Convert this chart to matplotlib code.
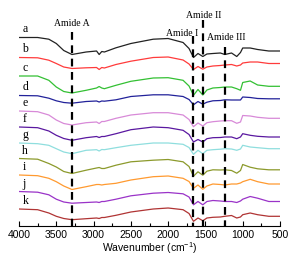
import numpy as np
import matplotlib.pyplot as plt

plt.rcParams['mathtext.fontset'] = 'custom'
plt.rcParams['mathtext.rm'] = 'Liberation Sans'
plt.rcParams['mathtext.it'] = 'Liberation Sans:italic'

# Wavenumber grid (cm-1)
wavenumber = [4000, 3750, 3600, 3500, 3400, 3290, 3100, 2960, 2925, 2890, 2855,
              2700, 2500, 2200, 2000, 1800, 1720, 1660, 1600, 1535, 1480, 1400,
              1300, 1240, 1150, 1080, 1030, 1000, 900, 800, 650, 500]

# Absorption depth of each spectrum (a.u.)
spec_a = [0, 0, 1.7, 6, 13, 17, 14.5, 13.5, 17, 14, 14.5, 10.3, 6, 1.7, 1, 5, 11, 20, 16, 19,
          16.5, 16, 15.5, 17, 15.5, 19, 15, 10.5, 10.5, 12, 13.5, 13.5]
spec_b = [0, 0.3, 2.7, 6, 9.5, 11, 10.3, 10, 12, 10, 10.5, 7, 3.7, 0, -0.5, 2.5, 6.5, 12, 9, 11.7,
          9.5, 8.5, 8, 7.5, 7, 8.5, 7.5, 5.5, 4.5, 4.5, 6, 6]
spec_c = [0, 0, 4.3, 11, 15.5, 17, 14.3, 12, 10.5, 12, 12.7, 9.3, 5.3, 2, 1.7, 4.3, 10, 19.3, 13.5, 19,
          14, 12, 11.5, 11, 11, 12.7, 14.3, 6.5, 5, 9, 10.3, 10.3]
spec_d = [0, 0.3, 2.7, 5.3, 7, 7.7, 6, 5.5, 6.5, 5.5, 5.7, 4.3, 1, -0.7, -0.7, 1, 4, 9.3, 6, 8.7,
          6.7, 5.3, 5, 4.3, 4.5, 4.5, 4.5, 1.5, 2, 3, 3.3, 3.3]
spec_e = [0, 0.7, 4, 9, 12.5, 14, 11.7, 11, 12.5, 10.5, 10.5, 7.3, 4, 1.7, 1.7, 4, 8.5, 15.7, 12, 15,
          11.7, 10.7, 10, 9.7, 9.7, 12.3, 11, 4.5, 5, 6.3, 7.3, 7.3]
spec_f = [0, 0.7, 4, 8.3, 11.5, 13.3, 10.7, 9.5, 10.5, 9.5, 9.5, 6.7, 2.7, 0, 0.7, 3.3, 7.5, 15, 12.5, 15,
          11.7, 10.7, 10.5, 10, 10, 11.7, 10, 6.7, 8.3, 9.3, 10, 10]
spec_g = [0, 0.7, 2.3, 5.7, 9, 10.7, 7.3, 6.7, 8, 6.5, 6.7, 4.7, 2.3, 0, 0, 1.3, 4.5, 11.3, 7.3, 10.7,
          7.3, 6.7, 6.2, 5.7, 6, 7.3, 6, 2.3, 4, 4.7, 5.7, 5.7]
spec_h = [0, 0.7, 5, 8.5, 13, 15, 11.7, 9.5, 9, 10, 10, 6.7, 3.3, 1.7, 1, 3.3, 8, 17.7, 13.3, 16.7,
          12.7, 11.3, 11.5, 11.3, 12, 14.7, 12, 6, 8.7, 10.3, 11.3, 11.3]
spec_i = [0, 0.7, 3.3, 6.7, 11, 14.5, 11.7, 9.5, 9.5, 10, 9.5, 8.3, 5, 1.7, 1, 3.3, 6.5, 13.3, 10, 14.3,
          11, 9, 9.5, 10, 9, 9, 8, 6.7, 4.3, 6.7, 9, 9]
spec_j = [0, 0.7, 3.3, 7.7, 10.5, 11.7, 11, 10.5, 11, 10, 10, 7.7, 4.3, 1.7, 1, 2.3, 5.5, 13.3, 10, 13.3,
          10, 9, 9.5, 10, 10, 11, 9.5, 7.7, 5, 6.7, 10, 10]
spec_k = [0, 0.7, 4, 7.3, 9.5, 10.7, 9.7, 9, 9.5, 8.5, 8.5, 6.3, 3, 0, -1, 0.7, 4.5, 12.3, 9, 11.7,
          9, 8.3, 8, 7.3, 6.5, 9, 8, 5.7, 4, 5.7, 7.3, 7.3]

spectra = [spec_a, spec_b, spec_c, spec_d, spec_e, spec_f, spec_g, spec_h, spec_i, spec_j, spec_k]
labels = ['a', 'b', 'c', 'd', 'e', 'f', 'g', 'h', 'i', 'j', 'k']
colors = ['#222222', '#ff3b3b', '#33c033', '#22229a', '#d88ad8', '#5a18a0',
          '#8fdede', '#8c9a2c', '#ff9a30', '#9a33c8', '#b03434']

# Vertical stacking offset of each spectrum
offsets = [37.5, 57.5, 76, 95.5, 111, 127, 143, 158.5, 175, 191.5, 209]

# Amide bands
band_pos = [3290, 1660, 1530, 1240]
band_top = [32, 36, 20, 47]
band_names = ['Amide A', 'Amide I', 'Amide II', 'Amide III']
name_pos = [(3290, 24), (1814, 33), (1530, 16), (1224, 37)]

fig = plt.figure(figsize=(2.98, 2.59), dpi=100)
ax = fig.add_axes([19 / 298, 1 - 226 / 259, 261 / 298, 218 / 259])

wn = np.array(wavenumber)
for lab, spec, col, off in zip(labels, spectra, colors, offsets):
    ax.plot(wn, -(off + np.array(spec)), color=col, lw=0.9)
    ax.text(3955, -(off - 8), lab, family='Liberation Serif', fontsize=8.5,
            ha='left', va='center')

for pos, top in zip(band_pos, band_top):
    ax.plot([pos, pos], [-top, -226], color='black', lw=1.6, ls=(0, (3.5, 2.5)))

for name, (px, py) in zip(band_names, name_pos):
    ax.text(px, -py, name, family='Liberation Serif', fontsize=7,
            ha='center', va='center')

ax.set_xlim(4000, 500)
ax.set_ylim(-226, -8)
for s in ['top', 'left', 'right']:
    ax.spines[s].set_visible(False)
ax.spines['bottom'].set_linewidth(0.8)
ax.set_yticks([])
ax.set_xticks(np.arange(500, 4001, 500))
ax.set_xticks(np.arange(500, 4001, 250), minor=True)
ax.tick_params(axis='x', which='major', direction='in', length=3.5, width=0.8,
               labelsize=7.5, pad=3)
ax.tick_params(axis='x', which='minor', direction='in', length=2, width=0.8)
for t in ax.get_xticklabels():
    t.set_family('Liberation Sans')
ax.set_xlabel('Wavenumber (cm$^{-1}$)', family='Liberation Sans', fontsize=7.5, labelpad=0)

fig.savefig('out.png', dpi=100)
